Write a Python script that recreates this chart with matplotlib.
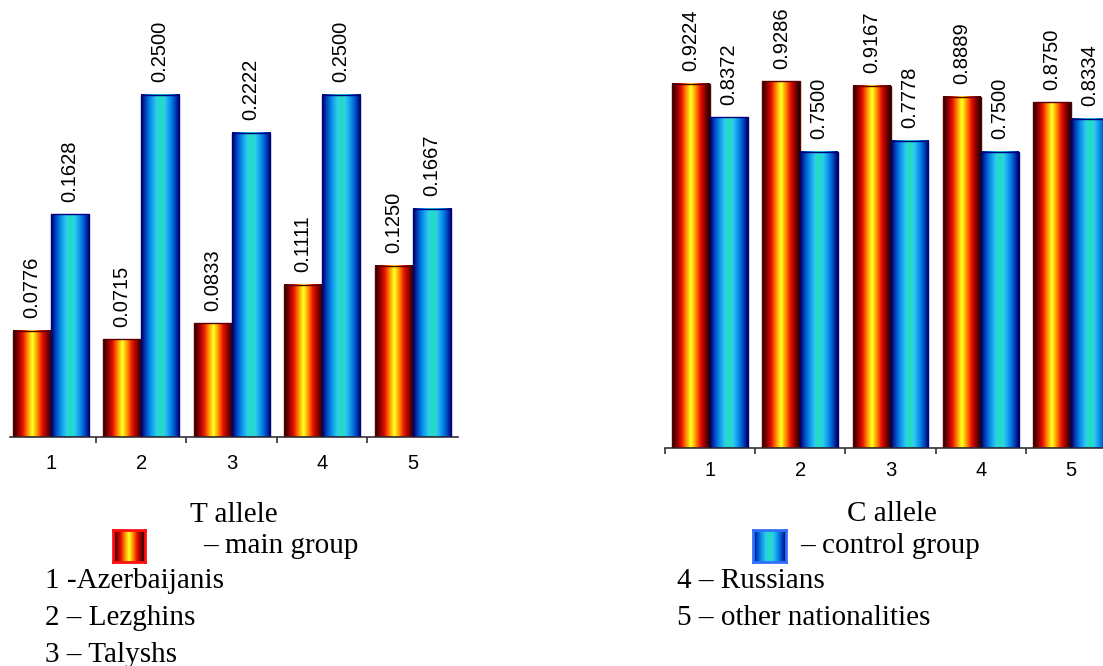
import numpy as np
import matplotlib
matplotlib.use("Agg")
import matplotlib.pyplot as plt
from matplotlib.colors import LinearSegmentedColormap

# data
groups = ["1", "2", "3", "4", "5"]
t_main = [0.0776, 0.0715, 0.0833, 0.1111, 0.1250]
t_control = [0.1628, 0.2500, 0.2222, 0.2500, 0.1667]
c_main = [0.9224, 0.9286, 0.9167, 0.8889, 0.8750]
c_control = [0.8372, 0.7500, 0.7778, 0.7500, 0.8334]
legend_left = ["1 -Azerbaijanis", "2 \u2013 Lezghins", "3 \u2013 Talyshs"]
legend_right = ["4 \u2013 Russians", "5 \u2013 other nationalities"]

W, H = 1103, 666
fig = plt.figure(figsize=(W / 100, H / 100), dpi=100)

hot = LinearSegmentedColormap.from_list(
    "hot_bar", [(0, "#1a0000"), (0.25, "#8a0000"), (0.5, "#e81000"),
                (0.75, "#ff8a00"), (1.0, "#ffff20")])
cool = LinearSegmentedColormap.from_list(
    "cool_bar", [(0, "#00005a"), (0.25, "#0048c8"), (0.5, "#0a90e6"),
                 (0.8, "#30cdf0"), (1.0, "#20e0b8")])
grad = (1 - np.abs(np.linspace(-1, 1, 64)))[None, :]


def px_axes(x0, y0, x1, y1):
    # pixel box (top-left origin) -> figure axes
    return fig.add_axes([x0 / W, 1 - y1 / H, (x1 - x0) / W, (y1 - y0) / H])


def gradient_bars(ax, xs, vals, cmap, edge):
    bars = ax.bar(xs, vals, width=0.42, facecolor="none", edgecolor=edge,
                  linewidth=1.0, zorder=3)
    for b in bars:
        ax.imshow(grad, cmap=cmap, aspect="auto", interpolation="bilinear",
                  extent=[b.get_x(), b.get_x() + b.get_width(), 0, b.get_height()],
                  zorder=2)
    for b, v in zip(bars, vals):
        ax.annotate(f"{v:.4f}", (b.get_x() + b.get_width() / 2, b.get_height()),
                    xytext=(0, 9), textcoords="offset points", rotation=90,
                    ha="center", va="bottom", fontsize=14.5,
                    family="Liberation Sans", color="black")
    return bars


def style(ax, xlim, ylim, bounds, pad):
    ax.set_xlim(*xlim)
    ax.set_ylim(*ylim)
    for s in ["top", "right", "left"]:
        ax.spines[s].set_visible(False)
    ax.spines["bottom"].set_color("#333333")
    ax.spines["bottom"].set_linewidth(1.2)
    ax.set_yticks([])
    ax.set_xticks(range(len(groups)))
    ax.set_xticklabels(groups, fontsize=14.5, family="Liberation Sans")
    ax.set_xticks(bounds, minor=True)
    ax.tick_params(axis="x", which="major", length=0, pad=pad)
    ax.tick_params(axis="x", which="minor", length=4, width=1.2, color="#333333")
    ax.patch.set_alpha(0)


x = np.arange(len(groups))

ax1 = px_axes(10, 0, 458, 437)
gradient_bars(ax1, x - 0.21, t_main, hot, "#5a0000")
gradient_bars(ax1, x + 0.21, t_control, cool, "#000080")
style(ax1, (-0.45, 4.5), (0, 0.3194), [0.5, 1.5, 2.5, 3.5], 12.5)

ax2 = px_axes(665, 0, 1116, 448)
gradient_bars(ax2, x - 0.21, c_main, hot, "#5a0000")
gradient_bars(ax2, x + 0.21, c_control, cool, "#000080")
style(ax2, (-0.5, 4.5), (0, 1.134), [-0.5, 0.5, 1.5, 2.5, 3.5], 9)

# captions and legend text
serif = dict(family="Liberation Serif", fontsize=21, color="black", va="baseline")


def ftext(xp, yp, s, **kw):
    fig.text(xp / W, 1 - yp / H, s, **serif, **kw)


ftext(234, 522, "T allele", ha="center")
ftext(892, 521, "C allele", ha="center")
ftext(203, 553, "\u2013 main group", ha="left")
ftext(800, 553, "\u2013 control group", ha="left")
for i, s in enumerate(legend_left):
    ftext(45, 588 + i * 37, s, ha="left")
for i, s in enumerate(legend_right):
    ftext(677, 588 + i * 37, s, ha="left")

# legend swatches
sw1 = px_axes(113, 530, 145, 562)
sw1.imshow(grad, cmap=hot, aspect="auto", interpolation="bilinear")
sw2 = px_axes(753, 530, 786, 562)
sw2.imshow(grad, cmap=cool, aspect="auto", interpolation="bilinear")
for sw, c in [(sw1, "#ff1010"), (sw2, "#3070ff")]:
    sw.set_xticks([])
    sw.set_yticks([])
    for s in sw.spines.values():
        s.set_color(c)
        s.set_linewidth(2)

fig.savefig("out.png", dpi=100)
